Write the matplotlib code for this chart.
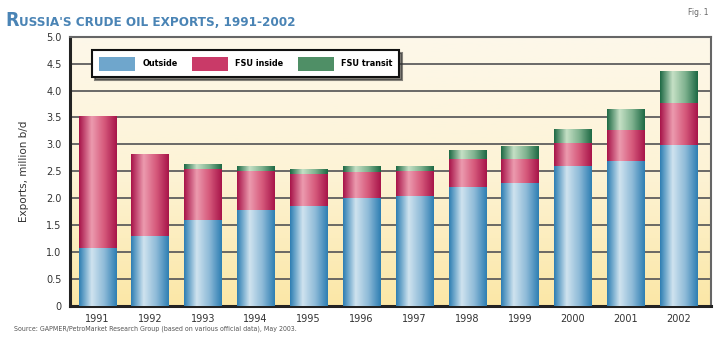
import numpy as np
import matplotlib.pyplot as plt
from matplotlib.colors import LinearSegmentedColormap
from matplotlib.patches import Patch

# Russia's crude oil exports, million b/d
years = ['1991', '1992', '1993', '1994', '1995', '1996',
         '1997', '1998', '1999', '2000', '2001', '2002']
outside = [1.08, 1.30, 1.60, 1.78, 1.85, 2.00, 2.05, 2.20, 2.28, 2.60, 2.69, 2.99]
fsu_inside = [2.44, 1.52, 0.94, 0.72, 0.60, 0.49, 0.46, 0.52, 0.44, 0.43, 0.58, 0.78]
fsu_transit = [0.00, 0.00, 0.09, 0.09, 0.09, 0.10, 0.09, 0.16, 0.24, 0.25, 0.38, 0.59]
series_names = ['Outside', 'FSU inside', 'FSU transit']
yticks = [0, 0.5, 1.0, 1.5, 2.0, 2.5, 3.0, 3.5, 4.0, 4.5, 5.0]
ytick_labels = ['0', '0.5', '1.0', '1.5', '2.0', '2.5', '3.0', '3.5', '4.0', '4.5', '5.0']

# gradient colour stops (edge, highlight, edge) for each series
grad_colors = {
    'Outside': ['#2f7fb3', '#cfe3ef', '#8fbbd8', '#2f7fb3'],
    'FSU inside': ['#a8154a', '#ec9aae', '#d65a7c', '#a8154a'],
    'FSU transit': ['#1f6a45', '#c5e0c5', '#7fb28f', '#1f6a45'],
}
solid_colors = {'Outside': '#6fa6cc', 'FSU inside': '#c93a68', 'FSU transit': '#4f8f66'}

fig = plt.figure(figsize=(7.2, 3.43), dpi=100)
fig.patch.set_facecolor('white')
ax = fig.add_axes([0.097, 0.108, 0.891, 0.785])

x = np.arange(len(years))

# background gradient, cream at top, pale yellow at bottom
bg = LinearSegmentedColormap.from_list('bg', ['#fbe7a6', '#fdf3d6', '#fdf8ea'])
ax.imshow(np.linspace(0, 1, 256).reshape(-1, 1), cmap=bg, origin='lower',
          extent=[0, 1, 0, 1], transform=ax.transAxes, aspect='auto', zorder=0)

# horizontal grid
for yv in yticks[1:]:
    ax.axhline(yv, color='#5e5e5e', lw=1.3, zorder=1)

# stacked bars with a shaded cylinder look
bottom = np.zeros(len(years))
grad = np.linspace(0, 1, 64).reshape(1, -1)
for name, vals in zip(series_names, [outside, fsu_inside, fsu_transit]):
    bars = ax.bar(x, vals, width=0.70, bottom=bottom, color=solid_colors[name],
                  edgecolor='none', zorder=2)
    cmap = LinearSegmentedColormap.from_list(name, grad_colors[name])
    for b in bars:
        if b.get_height() <= 0:
            continue
        x0, y0 = b.get_x(), b.get_y()
        ax.imshow(grad, cmap=cmap, aspect='auto', zorder=3,
                  extent=[x0, x0 + b.get_width(), y0, y0 + b.get_height()])
    bottom += np.array(vals)

ax.set_xlim(-0.515, 11.62)
ax.set_ylim(0, 5.0)
ax.set_xticks(x)
ax.set_xticklabels(years, fontsize=7, color='#333333')
ax.set_yticks(yticks)
ax.set_yticklabels(ytick_labels, fontsize=7, color='#333333')
ax.tick_params(length=0, pad=6)
ax.set_ylabel('Exports, million b/d', fontsize=7.5, color='#333333', labelpad=12)

for side in ['left', 'bottom']:
    ax.spines[side].set_linewidth(2.2)
    ax.spines[side].set_color('#222222')
for side in ['top', 'right']:
    ax.spines[side].set_linewidth(1.5)
    ax.spines[side].set_color('#666666')

# legend
handles = [Patch(facecolor=solid_colors[n], edgecolor='none', label=n) for n in series_names]
leg = ax.legend(handles=handles, ncol=3, loc='upper left', bbox_to_anchor=(0.028, 0.968),
                frameon=True, fancybox=False, shadow={'color': '#333333', 'alpha': 0.6},
                prop={'size': 6.5, 'weight': 'bold', 'stretch': 'condensed'},
                handlelength=4.0, handleheight=2.0, columnspacing=1.6,
                borderpad=0.75, handletextpad=0.8)
leg.get_frame().set_edgecolor('#111111')
leg.get_frame().set_linewidth(1.5)
leg.get_frame().set_facecolor('white')
leg.set_zorder(5)

# title with large first capital
fig.text(0.007, 0.925, 'R', fontsize=14, fontweight='bold', color='#4a84b5',
         fontstretch='condensed')
fig.text(0.026, 0.925, "USSIA'S CRUDE OIL EXPORTS, 1991-2002", fontsize=9.6,
         fontweight='bold', color='#4a84b5', fontstretch='condensed')
fig.text(0.955, 0.955, 'Fig. 1', fontsize=5.5, color='#666666')

fig.text(0.02, 0.035, 'Source: GAPMER/PetroMarket Research Group (based on various official data), May 2003.',
         fontsize=5.0, color='#555555', fontstretch='condensed')

fig.savefig('out.png', dpi=100)
